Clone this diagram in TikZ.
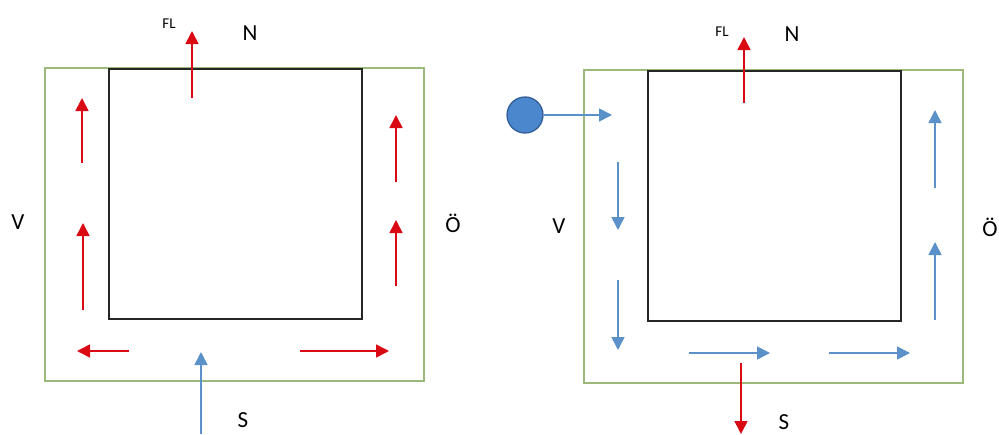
\documentclass[tikz,border=0pt]{standalone}
\usepackage{fontspec}
\setmainfont{Carlito}
\usetikzlibrary{arrows.meta}
\definecolor{myred}{RGB}{218,10,20}
\definecolor{myblue}{RGB}{90,145,200}
\definecolor{mygreen}{RGB}{155,185,120}
\definecolor{circfill}{RGB}{75,135,205}
\definecolor{circdraw}{RGB}{50,95,150}
\tikzset{
  outerbox/.style={draw=mygreen,line width=1.4pt},
  innerbox/.style={draw=black!85,line width=1.8pt},
  redarr/.style={draw=myred,line width=1.6pt,-{Triangle[length=13pt,width=13pt]}},
  bluearr/.style={draw=myblue,line width=1.6pt,-{Triangle[length=13pt,width=13pt]}},
  biglbl/.style={font=\fontsize{23}{23}\selectfont},
  smalllbl/.style={font=\fontsize{15}{15}\selectfont},
}
\begin{document}
\begin{tikzpicture}[x=1pt,y=-1pt]
\useasboundingbox (0,0) rectangle (999,434);
% ---------- left diagram ----------
\draw[outerbox] (45,68) rectangle (424,381);
\draw[innerbox,fill=white] (109,69) rectangle (362,319);
\coordinate (lfl1) at (192,98); \coordinate (lfl2) at (192,31);
\draw[redarr] (lfl1) -- (lfl2);
\node[smalllbl] (lFL) at (169,24) {FL};
\node[biglbl] (lN) at (250,33) {N};
\node[biglbl] (lV) at (18,222) {V};
\node[biglbl] (lO) at (453,223) {Ö};
\node[biglbl] (lS) at (243,420) {S};
\coordinate (la1) at (82,163); \coordinate (la2) at (82,98);
\coordinate (la3) at (83,310); \coordinate (la4) at (83,223);
\draw[redarr] (la1) -- (la2);
\draw[redarr] (la3) -- (la4);
\coordinate (lb1) at (396,182); \coordinate (lb2) at (396,115);
\coordinate (lb3) at (396,286); \coordinate (lb4) at (396,220);
\draw[redarr] (lb1) -- (lb2);
\draw[redarr] (lb3) -- (lb4);
\coordinate (lc1) at (129,351); \coordinate (lc2) at (77,351);
\coordinate (lc3) at (300,351); \coordinate (lc4) at (389,351);
\draw[redarr] (lc1) -- (lc2);
\draw[redarr] (lc3) -- (lc4);
\coordinate (ls1) at (201,434); \coordinate (ls2) at (201,352);
\draw[bluearr] (ls1) -- (ls2);
% ---------- right diagram ----------
\draw[outerbox] (584,70) rectangle (963,383);
\draw[innerbox,fill=white] (648,71) rectangle (901,321);
\coordinate (rfl1) at (744,103); \coordinate (rfl2) at (744,37);
\draw[redarr] (rfl1) -- (rfl2);
\node[smalllbl] (rFL) at (722,32) {FL};
\node[biglbl] (rN) at (792,34) {N};
\node[biglbl] (rV) at (559,226) {V};
\node[biglbl] (rO) at (990,227) {Ö};
\node[biglbl] (rS) at (784,422) {S};
\node[circle,draw=circdraw,fill=circfill,line width=1.3pt,minimum size=36pt,inner sep=0pt] (dot) at (525,115) {};
\coordinate (rin) at (612,115);
\draw[bluearr] (dot.east) -- (rin);
\coordinate (ra1) at (618,162); \coordinate (ra2) at (618,230);
\coordinate (ra3) at (618,280); \coordinate (ra4) at (618,350);
\draw[bluearr] (ra1) -- (ra2);
\draw[bluearr] (ra3) -- (ra4);
\coordinate (rb1) at (689,353); \coordinate (rb2) at (770,353);
\coordinate (rb3) at (829,353); \coordinate (rb4) at (910,353);
\draw[bluearr] (rb1) -- (rb2);
\draw[bluearr] (rb3) -- (rb4);
\coordinate (rc1) at (935,188); \coordinate (rc2) at (935,110);
\coordinate (rc3) at (935,320); \coordinate (rc4) at (935,242);
\draw[bluearr] (rc1) -- (rc2);
\draw[bluearr] (rc3) -- (rc4);
\coordinate (rs1) at (741,363); \coordinate (rs2) at (741,434);
\draw[redarr] (rs1) -- (rs2);
\end{tikzpicture}
\end{document}
